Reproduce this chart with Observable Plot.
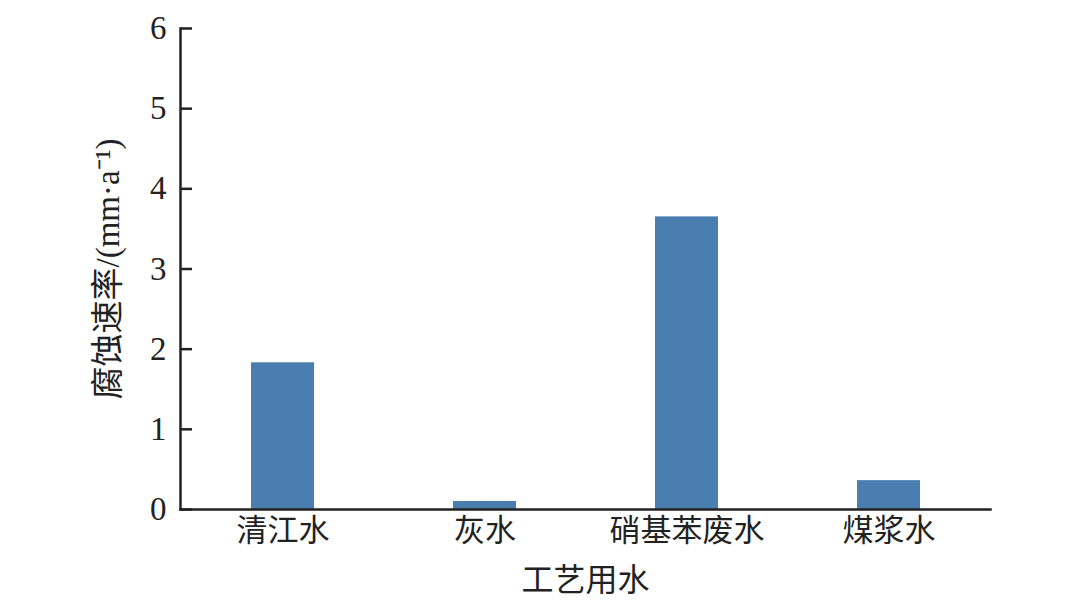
<!DOCTYPE html>
<html><head><meta charset="utf-8">
<script src="https://cdn.jsdelivr.net/npm/d3@7"></script>
<script src="https://cdn.jsdelivr.net/npm/@observablehq/plot@0.6"></script>
<style>
body{margin:0;background:#fff;}
#chart svg{display:block;}
</style>
</head><body><div id="chart"></div>
<script>
const categories = ["清江水", "灰水", "硝基苯废水", "煤浆水"];
const rates = [1.83, 0.10, 3.65, 0.36];
const yTicks = [0, 1, 2, 3, 4, 5, 6];
const xLabel = "工艺用水";
const yLabel = "腐蚀速率/(mm·a⁻¹)";

const data = categories.map((c, i) => ({cat: c, rate: rates[i]}));
const serif = "'Liberation Serif', 'Noto Sans CJK SC', serif";
const cjk = "'Noto Sans CJK SC', sans-serif";

const chart = Plot.plot({
  width: 1080,
  height: 600,
  marginLeft: 180,
  marginRight: 90,
  marginTop: 28,
  marginBottom: 91,
  style: {fontFamily: serif, fontSize: "32px", color: "#222", background: "#fff"},
  x: {domain: categories, paddingInner: 0.69, paddingOuter: 0.345},
  y: {domain: [0, 6]},
  marks: [
    Plot.barY(data, {x: "cat", y: "rate", fill: "#4a7eb0"}),
    Plot.axisY({ticks: yTicks, tickFormat: d => String(d), tickSize: 0, tickPadding: 14, label: null, fontSize: 33, fontFamily: serif}),
    Plot.axisY({ticks: yTicks, tickSize: 12, dx: 12, text: null, strokeWidth: 2.5, stroke: "#222", label: null}),
    Plot.axisX({tickSize: 0, tickPadding: 9, label: null, fontSize: 31, fontFamily: cjk, fill: "#222"}),
    Plot.frame({anchor: "left", stroke: "#222", strokeWidth: 2.5}),
    Plot.frame({anchor: "bottom", stroke: "#222", strokeWidth: 2.5}),
    Plot.text([xLabel], {frameAnchor: "bottom", dy: 71, lineAnchor: "middle", fontSize: 32, fontFamily: cjk, fill: "#222"}),
    Plot.text([yLabel], {frameAnchor: "left", dx: -72, rotate: -90, textAnchor: "middle", fontSize: 33, fontFamily: serif, fill: "#222"})
  ]
});
document.getElementById("chart").appendChild(chart);
</script>
</body></html>
